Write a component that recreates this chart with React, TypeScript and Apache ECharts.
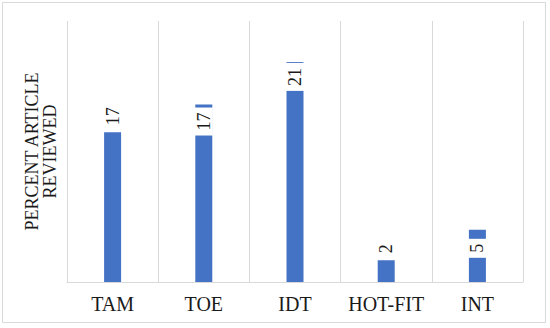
import React, { useEffect, useRef } from "react";
import * as echarts from "echarts";

const categories = ["TAM", "TOE", "IDT", "HOT-FIT", "INT"];
// bar heights as drawn in the picture (axis 0..30, no visible ticks)
const barValues = [17.2, 20.4, 25.3, 2.5, 6.0];
// numbers printed on the bars
const labelTexts = ["17", "17", "21", "2", "5"];
const yAxisTitle = "PERCENT ARTICLE\nREVIEWED";

const FONT = "'Liberation Serif', 'Times New Roman', serif";

export default function App() {
  const ref = useRef<HTMLDivElement>(null);
  useEffect(() => {
    document.body.style.margin = "0";
    const chart = echarts.init(ref.current!, null, { renderer: "svg" });
    const outside = { position: "top", align: "left", verticalAlign: "middle", distance: 7 };
    const inside = (d: number, p: number) => ({
      position: "insideTop",
      align: "right",
      verticalAlign: "middle",
      distance: d,
      backgroundColor: "#ffffff",
      padding: [0, p],
    });
    const labelCfg = [outside, inside(3, 5), inside(1, 5), outside, inside(9, 5)];
    chart.setOption({
      animation: false,
      graphic: [
        {
          type: "rect",
          shape: { x: 2.5, y: 2.5, width: 543, height: 320 },
          style: { fill: "none", stroke: "#d9d9d9", lineWidth: 1 },
          silent: true,
        },
      ],
      grid: { left: 67, right: 27, top: 21, bottom: 46 },
      xAxis: {
        type: "category",
        data: categories,
        axisLine: { lineStyle: { color: "#d9d9d9", width: 1 } },
        axisTick: { show: false },
        splitLine: { show: true, interval: 0, lineStyle: { color: "#d9d9d9", width: 1 } },
        axisLabel: { interval: 0, color: "#1a1a1a", fontFamily: FONT, fontSize: 20, margin: 12 },
      },
      yAxis: {
        type: "value",
        min: 0,
        max: 30,
        axisLine: { show: false },
        axisTick: { show: false },
        axisLabel: { show: false },
        splitLine: { show: false },
        name: yAxisTitle,
        nameLocation: "middle",
        nameRotate: 90,
        nameGap: 8,
        nameTextStyle: { color: "#1a1a1a", fontFamily: FONT, fontSize: 18, lineHeight: 18, align: "center" },
      },
      series: [
        {
          type: "bar",
          barWidth: 17,
          itemStyle: { color: "#4472C4" },
          label: {
            show: true,
            rotate: 90,
            color: "#1a1a1a",
            fontFamily: FONT,
            fontSize: 18,
            formatter: (p: any) => labelTexts[p.dataIndex],
          },
          data: barValues.map((v, i) => ({ value: v, label: labelCfg[i] })),
        },
      ],
    });
    return () => chart.dispose();
  }, []);
  return <div ref={ref} style={{ width: 550, height: 328 }} />;
}
